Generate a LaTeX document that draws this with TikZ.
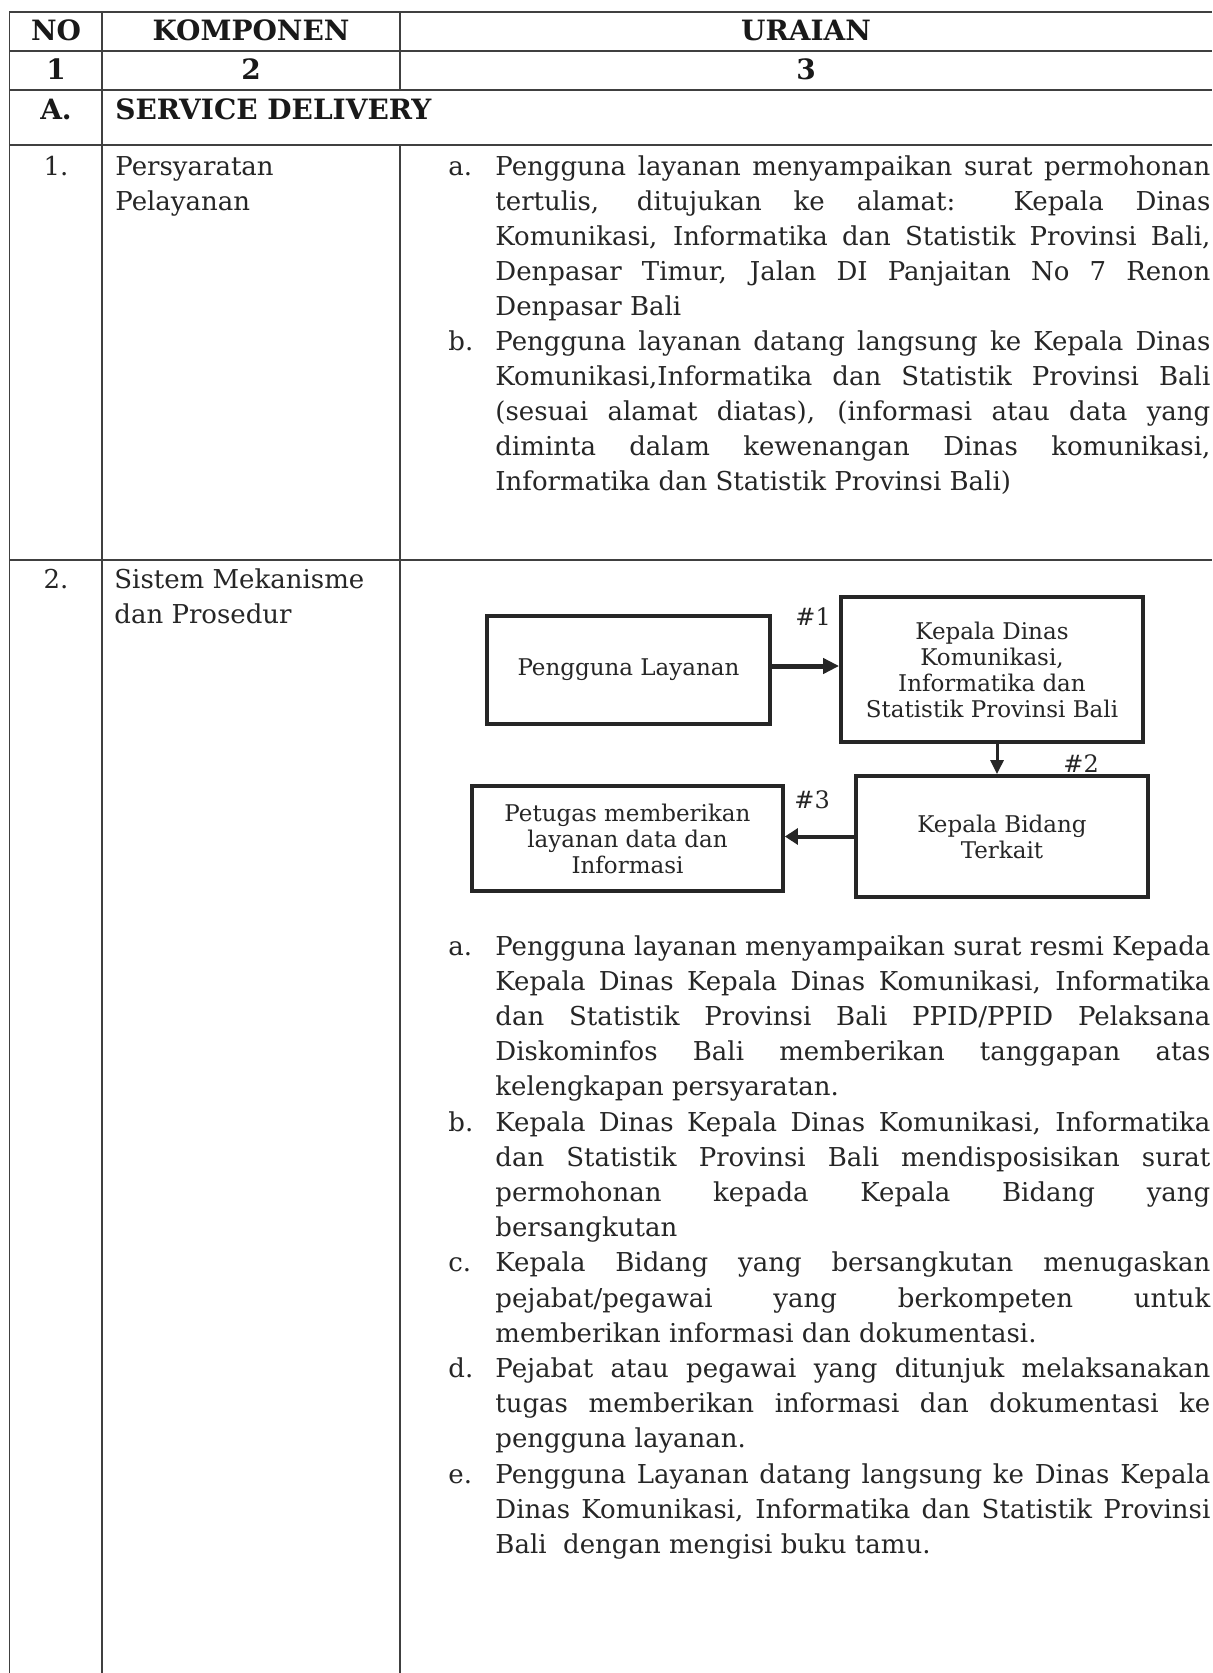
\documentclass[tikz,border=0pt]{standalone}
\usepackage{fontspec}
\usepackage{graphicx}
\setmainfont{DejaVu Serif}
\usetikzlibrary{arrows.meta}
\newlength{\jw}\setlength{\jw}{357.5pt}
\newcommand{\jl}[1]{\sbox0{#1}\ifdim\wd0>\jw\resizebox{\jw}{\height}{#1}\else\makebox[\jw][s]{#1}\fi}
\begin{document}
\begin{tikzpicture}[x=0.5pt,y=-0.5pt,
  vgrid/.style={draw=black!75,line width=0.7pt},
  hgrid/.style={draw=black!75,line width=1.1pt},
  hdr/.style={font=\fontsize{14}{16}\selectfont\bfseries, text=black!90, inner sep=0, anchor=base},
  body/.style={font=\fontsize{13}{17.5}\selectfont, text=black!85, inner sep=0, anchor=base west},
  bodyb/.style={body, font=\fontsize{13}{17.6}\selectfont},
  fbox/.style={draw=black!85, line width=1.9pt, inner sep=0, align=center, font=\fontsize{11.5}{13}\selectfont, text=black!85},
  lbl/.style={font=\fontsize{12}{14}\selectfont, text=black!85, inner sep=0, anchor=base west},
  arr/.style={draw=black!85}
]
\fill[white] (0,0) rectangle (1212,1673);
\useasboundingbox (0,0) rectangle (1212,1673);

% table grid
\draw[hgrid] (9,12) -- (1212,12);
\draw[hgrid] (9,51) -- (1212,51);
\draw[hgrid] (9,90) -- (1212,90);
\draw[hgrid] (9,145) -- (1212,145);
\draw[hgrid] (9,560) -- (1212,560);
\draw[vgrid] (9.5,12) -- (9.5,1673);
\draw[vgrid] (102,12) -- (102,1673);
\draw[vgrid] (400,12) -- (400,90);
\draw[vgrid] (400,145) -- (400,1673);

% header
\node[hdr] (hno) at (56,41) {NO};
\node[hdr] (hkomp) at (251,41) {KOMPONEN};
\node[hdr] (hur) at (806,41) {URAIAN};
\node[hdr] (c1) at (56,80) {1};
\node[hdr] (c2) at (251,80) {2};
\node[hdr] (c3) at (806,80) {3};
\node[hdr] (secA) at (56,120) {A.};
\node[hdr,anchor=base west] (secAt) at (115,120) {SERVICE DELIVERY};

% row 1
\node[body,anchor=base] (r1no) at (56,176) {1.};
\node[body] (r1k) at (115,176) {\parbox[t]{150pt}{Persyaratan\\Pelayanan}};
\node[body] (r1la) at (448,176) {a.};
\node[body] (r1a) at (495,176) {\parbox[t]{\jw}{%
\jl{Pengguna layanan menyampaikan surat permohonan}\\
\jl{tertulis, ditujukan ke alamat: Kepala Dinas}\\
\jl{Komunikasi, Informatika dan Statistik Provinsi Bali,}\\
\jl{Denpasar Timur, Jalan DI Panjaitan No 7 Renon}\\
Denpasar Bali}};
\node[body] (r1lb) at (448,351) {b.};
\node[body] (r1b) at (495,351) {\parbox[t]{\jw}{%
\jl{Pengguna layanan datang langsung ke Kepala Dinas}\\
\jl{Komunikasi,Informatika dan Statistik Provinsi Bali}\\
\jl{(sesuai alamat diatas), (informasi atau data yang}\\
\jl{diminta dalam kewenangan Dinas komunikasi,}\\
Informatika dan Statistik Provinsi Bali)}};

% row 2
\node[body,anchor=base] (r2no) at (56,588) {2.};
\node[body] (r2k) at (114,588) {\parbox[t]{150pt}{Sistem Mekanisme\\dan Prosedur}};

% flowchart
\node[fbox, minimum width=141.5pt, minimum height=54pt] (pengguna) at (628.5,670) {Pengguna Layanan};
\node[fbox, minimum width=151pt, minimum height=72.5pt] (kadis) at (992,669.5) {Kepala Dinas\\Komunikasi,\\Informatika dan\\Statistik Provinsi Bali};
\node[fbox, minimum width=146pt, minimum height=60.5pt] (kabid) at (1002,836.5) {Kepala Bidang\\Terkait};
\node[fbox, minimum width=155.5pt, minimum height=52.5pt] (petugas) at (627.5,838.5) {Petugas memberikan\\layanan data dan\\Informasi};
\draw[arr, line width=2.5pt, -{Triangle[length=8pt,width=7.5pt]}] ([yshift=2pt]pengguna.east) -- ([yshift=2pt]pengguna.east -| kadis.west);
\draw[arr, line width=1.5pt, -{Triangle[length=7pt,width=6.5pt]}] ([xshift=2.5pt]kadis.south) -- ([xshift=2.5pt]kadis.south |- kabid.north);
\draw[arr, line width=2pt, -{Triangle[length=6.5pt,width=8pt]}] (kabid.west) -- (kabid.west -| petugas.east);
\node[lbl] (l1) at (795,625) {\#1};
\node[lbl] (l2) at (1063,772) {\#2};
\node[lbl] (l3) at (794,808) {\#3};

% row 2 text
\node[body] (r2la) at (448,955) {a.};
\node[bodyb] (r2a) at (495,955) {\parbox[t]{\jw}{%
\jl{Pengguna layanan menyampaikan surat resmi Kepada}\\
\jl{Kepala Dinas Kepala Dinas Komunikasi, Informatika}\\
\jl{dan Statistik Provinsi Bali PPID/PPID Pelaksana}\\
\jl{Diskominfos Bali memberikan tanggapan atas}\\
kelengkapan persyaratan.}};
\node[body] (r2lb) at (448,1131) {b.};
\node[bodyb] (r2b) at (495,1131) {\parbox[t]{\jw}{%
\jl{Kepala Dinas Kepala Dinas Komunikasi, Informatika}\\
\jl{dan Statistik Provinsi Bali mendisposisikan surat}\\
\jl{permohonan kepada Kepala Bidang yang}\\
bersangkutan}};
\node[body] (r2lc) at (448,1271.8) {c.};
\node[bodyb] (r2c) at (495,1271.8) {\parbox[t]{\jw}{%
\jl{Kepala Bidang yang bersangkutan menugaskan}\\
\jl{pejabat/pegawai yang berkompeten untuk}\\
memberikan informasi dan dokumentasi.}};
\node[body] (r2ld) at (448,1377.4) {d.};
\node[bodyb] (r2d) at (495,1377.4) {\parbox[t]{\jw}{%
\jl{Pejabat atau pegawai yang ditunjuk melaksanakan}\\
\jl{tugas memberikan informasi dan dokumentasi ke}\\
pengguna layanan.}};
\node[body] (r2le) at (448,1483) {e.};
\node[bodyb] (r2e) at (495,1483) {\parbox[t]{\jw}{%
\jl{Pengguna Layanan datang langsung ke Dinas Kepala}\\
\jl{Dinas Komunikasi, Informatika dan Statistik Provinsi}\\
Bali\ \ dengan mengisi buku tamu.}};
\end{tikzpicture}
\end{document}
